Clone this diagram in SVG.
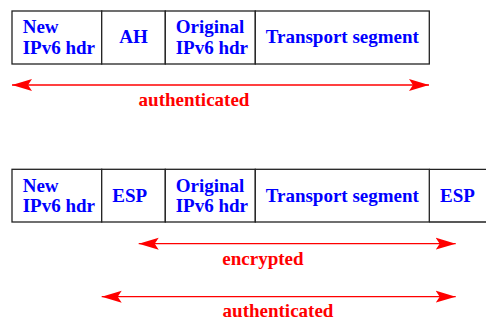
<svg xmlns="http://www.w3.org/2000/svg" width="486" height="320" viewBox="0 0 486 320">
<defs>
<style>
.box{fill:#fff;stroke:#222;stroke-width:1.3}
.t{font-family:"Liberation Serif","Times New Roman",serif;font-weight:bold;font-size:19px;fill:#0000ff}
.lbl{font-family:"Liberation Serif","Times New Roman",serif;font-weight:bold;font-size:19px;fill:#ff0000;text-anchor:middle}
.arr{stroke:#ff0000;stroke-width:1.3;fill:none;marker-start:url(#ah);marker-end:url(#ah)}
</style>
<marker id="ah" markerUnits="userSpaceOnUse" markerWidth="22" markerHeight="14" viewBox="0 -7 22 14" refX="20" refY="0" orient="auto-start-reverse">
<path d="M0,-6 L20,0 L0,6 L4,0 Z" fill="#ff0000"/>
</marker>
</defs>
<g id="pkt1">
<g id="p1-new"><rect class="box" x="12" y="11" width="89.7" height="53"/><text class="t" x="22.7" y="32.5">New</text><text class="t" x="22.7" y="53.5">IPv6 hdr</text></g>
<g id="p1-ah"><rect class="box" x="101.7" y="11" width="63.6" height="53"/><text class="t" x="133.5" y="43" text-anchor="middle">AH</text></g>
<g id="p1-orig"><rect class="box" x="165.3" y="11" width="90" height="53"/><text class="t" x="175.7" y="32.5">Original</text><text class="t" x="175.7" y="53.5">IPv6 hdr</text></g>
<g id="p1-trans"><rect class="box" x="255.3" y="11" width="174" height="53"/><text class="t" x="342.3" y="43" text-anchor="middle">Transport segment</text></g>
</g>
<g id="pkt2">
<g id="p2-new"><rect class="box" x="12" y="169.3" width="89.7" height="52.7"/><text class="t" x="22.7" y="191.5">New</text><text class="t" x="22.7" y="211.7">IPv6 hdr</text></g>
<g id="p2-esp"><rect class="box" x="101.7" y="169.3" width="63.6" height="52.7"/><text class="t" x="112.3" y="201.7">ESP</text></g>
<g id="p2-orig"><rect class="box" x="165.3" y="169.3" width="90" height="52.7"/><text class="t" x="175.7" y="191.5">Original</text><text class="t" x="175.7" y="211.7">IPv6 hdr</text></g>
<g id="p2-trans"><rect class="box" x="255.3" y="169.3" width="174" height="52.7"/><text class="t" x="342.3" y="201.7" text-anchor="middle">Transport segment</text></g>
<g id="p2-esptrail"><path class="box" d="M429.3,169.3 H487 M429.3,222 H487"/><text class="t" x="440" y="201.7">ESP</text></g>
</g>
<g id="connectors">
<line class="arr" x1="12" y1="85" x2="429" y2="85"/>
<line class="arr" x1="138.7" y1="243.7" x2="455.7" y2="243.7"/>
<line class="arr" x1="101.7" y1="296.7" x2="455.7" y2="296.7"/>
</g>
<g id="labels">
<text class="lbl" x="194" y="106">authenticated</text>
<text class="lbl" x="263" y="265">encrypted</text>
<text class="lbl" x="278" y="316.5">authenticated</text>
</g>
</svg>
